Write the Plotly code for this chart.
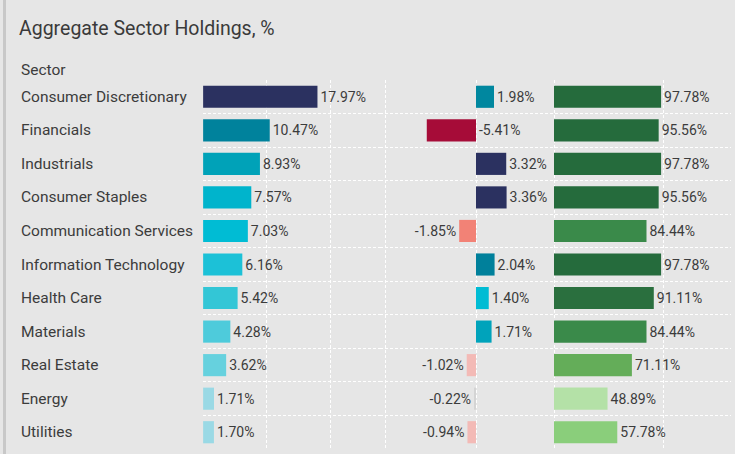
import plotly.graph_objects as go

W, H = 735, 454

sectors = [
    "Consumer Discretionary", "Financials", "Industrials", "Consumer Staples",
    "Communication Services", "Information Technology", "Health Care",
    "Materials", "Real Estate", "Energy", "Utilities",
]
weight = [17.97, 10.47, 8.93, 7.57, 7.03, 6.16, 5.42, 4.28, 3.62, 1.71, 1.70]
active = [1.98, -5.41, 3.32, 3.36, -1.85, 2.04, 1.40, 1.71, -1.02, -0.22, -0.94]
held_by = [97.78, 95.56, 97.78, 95.56, 84.44, 97.78, 91.11, 84.44, 71.11, 48.89, 57.78]

# bar fills
weight_colors = ["#2b3160", "#00829c", "#00a2b8", "#00b4cc", "#00bcd4", "#1cc1d7",
                 "#33c6d6", "#4ecbdb", "#66d1de", "#9ad9e5", "#9ad9e5"]
active_colors = ["#00879f", "#a60c38", "#2b3160", "#2b3160", "#f28276", "#00809b",
                 "#00bcd4", "#00a3bb", "#f3bab6", "#d4d4d4", "#f3bab6"]
held_colors = ["#256b3c", "#256b3c", "#256b3c", "#256b3c", "#3a8a4a", "#256b3c",
               "#2a6f3e", "#3a8a4a", "#64ad59", "#b4e1a7", "#8ace7b"]

FONT = "Roboto, 'Noto Sans', sans-serif"
TEXT = "#3c3c3c"
BG = "#e6e6e6"
GRID = dict(showgrid=True, gridcolor="#ffffff", gridwidth=1, griddash="3px,2px")
LABEL_SIZE = 15.5
VALUE_SIZE = 14

# pixel layout of the three columns
top, bottom = 80, 449
cols = [(203, 380), (380, 550), (550, 731)]
dom = [(a / W, b / W) for a, b in cols]

# long negative bars get their label beside the zero line instead of past the bar
ACTIVE_RANGE = [-10.55, 8.13]


def pct(v):
    return f"{v:.2f}%"


def label_fits_left(v):
    # about 50 px of label must fit between the bar end and the column edge
    px_per_unit = (cols[1][1] - cols[1][0]) / (ACTIVE_RANGE[1] - ACTIVE_RANGE[0])
    return v >= 0 or (v - ACTIVE_RANGE[0]) * px_per_unit > 52


fig = go.Figure()
series = [(weight, weight_colors, "x", "y", [pct(v) for v in weight]),
          (active, active_colors, "x2", "y2",
           [pct(v) if label_fits_left(v) else "" for v in active]),
          (held_by, held_colors, "x3", "y3", [pct(v) for v in held_by])]
for vals, colors, xa, ya, texts in series:
    fig.add_trace(go.Bar(
        x=vals, y=sectors, orientation="h", xaxis=xa, yaxis=ya,
        marker=dict(color=colors, line=dict(width=0)),
        width=0.66,
        text=texts, textposition="outside", cliponaxis=False,
        constraintext="none",
        textfont=dict(family=FONT, size=VALUE_SIZE, color=TEXT),
        hoverinfo="skip", showlegend=False,
    ))

yax = dict(type="category", categoryorder="array", categoryarray=sectors,
           range=[10.5, -0.5], tickson="boundaries", showticklabels=False,
           ticks="", zeroline=False, showline=False, domain=[0, 1], **GRID)

fig.update_layout(
    width=W, height=H,
    margin=dict(l=0, r=0, t=top, b=H - bottom, pad=0),
    paper_bgcolor=BG, plot_bgcolor=BG,
    font=dict(family=FONT, color=TEXT),
    title=dict(text="Aggregate Sector Holdings, %", x=19 / W, xanchor="left",
               y=1 - 28 / H, yanchor="middle",
               font=dict(family=FONT, size=19.5, color="#3a3a3a")),
    xaxis=dict(domain=dom[0], range=[-0.02, 27.8], dtick=10, tick0=0,
               showticklabels=False, ticks="", zeroline=False, anchor="y", **GRID),
    xaxis2=dict(domain=dom[1], range=ACTIVE_RANGE, dtick=10, tick0=0,
                showticklabels=False, ticks="", zeroline=False, anchor="y2", **GRID),
    xaxis3=dict(domain=dom[2], range=[-3.65, 161.6], dtick=100, tick0=0,
                showticklabels=False, ticks="", zeroline=False, anchor="y3", **GRID),
    yaxis=dict(anchor="x", **yax),
    yaxis2=dict(anchor="x2", **yax),
    yaxis3=dict(anchor="x3", **yax),
    bargap=0.34,
)

# labels of long negative active bars, placed just right of zero
for s, v in zip(sectors, active):
    if not label_fits_left(v):
        fig.add_annotation(text=pct(v), x=0, xref="x2", xanchor="left", xshift=1,
                           y=s, yref="y2", yanchor="middle", showarrow=False,
                           font=dict(family=FONT, size=VALUE_SIZE, color=TEXT))

# sector names, left aligned
for s in sectors:
    fig.add_annotation(text=s, x=19 / W, xref="paper", xanchor="left",
                       y=s, yref="y", yanchor="middle", showarrow=False,
                       font=dict(family=FONT, size=LABEL_SIZE, color=TEXT))

# column header
span = bottom - top
fig.add_annotation(text="Sector", x=19 / W, xref="paper", xanchor="left",
                   y=1 + (top - 70) / span, yref="paper", yanchor="middle",
                   showarrow=False, font=dict(family=FONT, size=LABEL_SIZE, color=TEXT))

# left frame edge
fig.add_shape(type="line", xref="paper", yref="paper",
              x0=4.5 / W, x1=4.5 / W,
              y0=(bottom - H) / span, y1=1 + top / span,
              line=dict(color="#c8c8c8", width=3))

fig.write_html("out.html", config={"displayModeBar": False})
